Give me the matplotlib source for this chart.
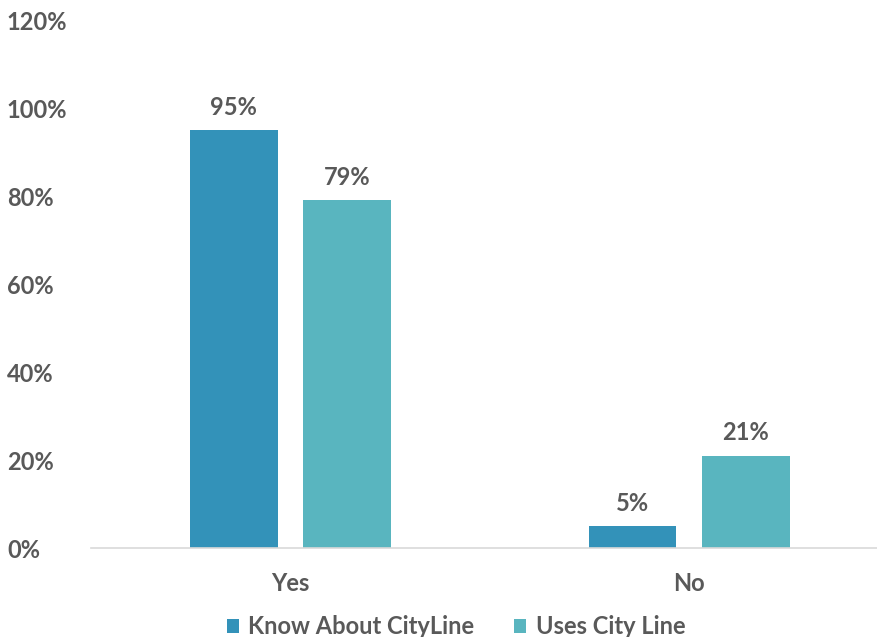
import matplotlib
matplotlib.use("Agg")
import matplotlib.pyplot as plt
import numpy as np
from matplotlib.ticker import FuncFormatter

categories = ["Yes", "No"]
series_names = ["Know About CityLine", "Uses City Line"]
know_about = [95, 5]
uses = [79, 21]

colors = ["#3392B9", "#59B5BF"]
text_color = "#595959"

plt.rcParams["font.family"] = ["Lato", "DejaVu Sans"]
plt.rcParams["font.weight"] = "bold"

W, H = 877, 637
fig = plt.figure(figsize=(W / 100, H / 100), dpi=100)
ax = fig.add_axes([91 / W, (H - 548) / H, (W - 91) / W, (548 - 20) / H])

x = np.arange(len(categories))
width = 0.22
offset = 0.142
for vals, off, col, name in zip([know_about, uses], [-offset, offset], colors, series_names):
    bars = ax.bar(x + off, vals, width, color=col, label=name)
    for b, v in zip(bars, vals):
        ax.text(b.get_x() + b.get_width() / 2, v + 2.6, f"{v}%",
                ha="center", va="bottom", fontsize=17, color=text_color, fontweight="bold")

ax.set_xlim(-0.5, (W - 290) / 399)
ax.set_ylim(0, 120)
ax.set_yticks(range(0, 121, 20))
ax.yaxis.set_major_formatter(FuncFormatter(lambda v, _: f"{v:.0f}%"))
ax.set_xticks(x)
ax.set_xticklabels(categories)
ax.tick_params(axis="both", length=0, labelsize=17, colors=text_color)
ax.tick_params(axis="x", pad=17)
for lab in ax.get_yticklabels():
    lab.set_horizontalalignment("left")
ax.tick_params(axis="y", pad=60.5)

for side in ["top", "right", "left"]:
    ax.spines[side].set_visible(False)
ax.spines["bottom"].set_color("#D9D9D9")
ax.spines["bottom"].set_linewidth(1.2)

fig.legend(loc="center", bbox_to_anchor=(456 / W, (H - 627) / H), ncol=2,
           frameon=False, fontsize=17, handlelength=0.5, handleheight=0.5,
           handletextpad=0.4, columnspacing=1.7, labelcolor=text_color)

fig.savefig("out.png", dpi=100)
